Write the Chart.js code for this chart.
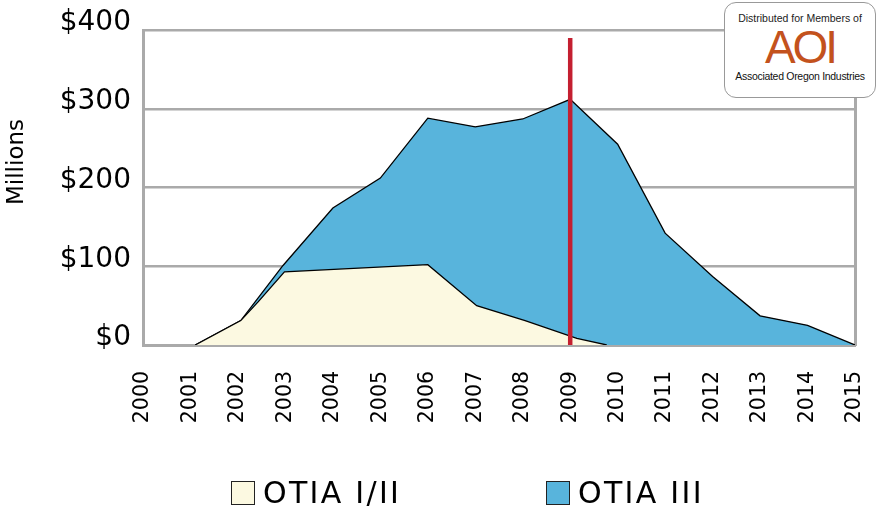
<!DOCTYPE html>
<html>
<head>
<meta charset="utf-8">
<script src="https://cdn.jsdelivr.net/npm/chart.js@4"></script>
<style>
  body { margin: 0; background: #fff; }
  #wrap { position: relative; width: 877px; height: 508px; font-family: "DejaVu Sans", sans-serif; }
  #legend { position: absolute; top: 475px; left: 0; width: 877px; height: 34px; }
  .item { position: absolute; top: 0; display: flex; align-items: center; font-size: 30px; letter-spacing: 2.3px; color: #000; }
  .box { width: 22px; height: 22px; border: 1.5px solid #222; margin-right: 8px; }
  #logo {
    position: absolute; left: 724px; top: 2px; width: 150px; height: 94px;
    background: #fff; border: 1px solid #999; border-radius: 12px;
    font-family: "Liberation Sans", Arial, sans-serif; text-align: center;
  }
  #logo .t1 { font-size: 10.5px; margin-top: 9px; color: #222; }
  #logo .aoi { font-family: "Liberation Sans", sans-serif; font-size: 46px; line-height: 46px; color: #c3521d; letter-spacing: -3px; }
  #logo .t2 { font-size: 10.5px; color: #111; letter-spacing: -0.3px; }
</style>
</head>
<body>
<div id="wrap">
  <canvas id="chart" width="877" height="508"></canvas>
  <div id="logo">
    <div class="t1">Distributed for Members of</div>
    <div class="aoi">AOI</div>
    <div class="t2">Associated Oregon Industries</div>
  </div>
  <div id="legend">
    <div class="item" style="left:231px"><span class="box" style="background:#fcf9e1"></span>OTIA I/II</div>
    <div class="item" style="left:546px"><span class="box" style="background:#58b4dc"></span>OTIA III</div>
  </div>
</div>
<script>
// year positions and values ($ millions)
const otia12Years = [2001.1, 2002.06, 2002.43, 2002.98, 2006.0, 2007.03, 2008.05, 2009.14, 2009.77];
const otia12Values = [0, 31, 55, 93, 102, 50, 31, 8.5, 0];

// top of the OTIA III band (stacked on OTIA I/II)
const otia3TopYears = [2001.1, 2002.06, 2002.95, 2004, 2005, 2006, 2007, 2008, 2009, 2010, 2011, 2012, 2013, 2014, 2015];
const otia3TopValues = [0, 31, 101, 174, 212, 288, 277, 287, 312, 255, 142, 87, 37, 25, 0];

const markerYear = 2009;
const markerRange = [0, 390];

const yTicks = [0, 100, 200, 300, 400];
const yearMin = 2000;
const yearMax = 2015;

const toPoints = (xs, ys) => xs.map((x, i) => ({ x: x, y: ys[i] }));

const sideTitle = {
    id: 'sideTitle',
    afterDraw(chart) {
        const ctx = chart.ctx;
        ctx.save();
        ctx.translate(17, 162);
        ctx.rotate(-Math.PI / 2);
        ctx.font = '23px "DejaVu Sans"';
        ctx.fillStyle = '#000';
        ctx.textAlign = 'center';
        ctx.textBaseline = 'middle';
        ctx.fillText('Millions', 0, 0);
        ctx.restore();
    }
};

new Chart(document.getElementById('chart'), {
    type: 'line',
    data: {
        datasets: [
            {
                label: 'marker',
                data: toPoints([markerYear, markerYear], markerRange),
                borderColor: '#c41f30',
                borderWidth: 4.5,
                pointRadius: 0,
                fill: false
            },
            {
                label: 'OTIA I/II',
                data: toPoints(otia12Years, otia12Values),
                borderColor: '#000',
                borderWidth: 1.3,
                backgroundColor: '#fcf9e1',
                pointRadius: 0,
                fill: 'origin'
            },
            {
                label: 'OTIA III',
                data: toPoints(otia3TopYears, otia3TopValues),
                borderColor: '#000',
                borderWidth: 1.3,
                backgroundColor: '#58b4dc',
                pointRadius: 0,
                fill: 'origin'
            }
        ]
    },
    options: {
        responsive: false,
        animation: false,
        layout: { padding: { left: 0, right: 22, top: 30, bottom: 60 } },
        plugins: {
            legend: { display: false },
            tooltip: { enabled: false }
        },
        scales: {
            x: {
                type: 'linear',
                min: yearMin,
                max: yearMax,
                afterFit: (scale) => {
                    scale.height = 103;
                    scale.paddingLeft = 0;
                    scale.paddingRight = 0;
                },
                afterBuildTicks: (scale) => {
                    scale.ticks = [];
                    for (let y = yearMin; y <= yearMax; y++) scale.ticks.push({ value: y });
                },
                grid: { display: false, drawTicks: false },
                border: { display: true, color: '#aaaaaa', width: 3 },
                ticks: {
                    minRotation: 90,
                    maxRotation: 90,
                    padding: 26,
                    color: '#000',
                    font: { family: 'DejaVu Sans', size: 20.5 },
                    callback: (v) => String(v)
                }
            },
            y: {
                min: 0,
                max: 400,
                afterFit: (scale) => {
                    scale.width = 143;
                    scale.paddingTop = 0;
                    scale.paddingBottom = 0;
                },
                afterBuildTicks: (scale) => { scale.ticks = yTicks.map(v => ({ value: v })); },
                grid: { color: '#aaaaaa', lineWidth: 2.5, drawTicks: false },
                border: { display: true, color: '#aaaaaa', width: 3 },
                ticks: {
                    padding: 12,
                    labelOffset: -7,
                    color: '#000',
                    font: { family: 'DejaVu Sans', size: 28 },
                    callback: (v) => '$' + v
                }
            },
            y2: {
                position: 'right',
                min: 0,
                max: 400,
                afterFit: (scale) => {
                    scale.width = 0;
                    scale.paddingTop = 0;
                    scale.paddingBottom = 0;
                },
                grid: { display: false, drawTicks: false },
                border: { display: true, color: '#aaaaaa', width: 3 },
                ticks: { display: false }
            }
        }
    },
    plugins: [sideTitle]
});
</script>
</body>
</html>
